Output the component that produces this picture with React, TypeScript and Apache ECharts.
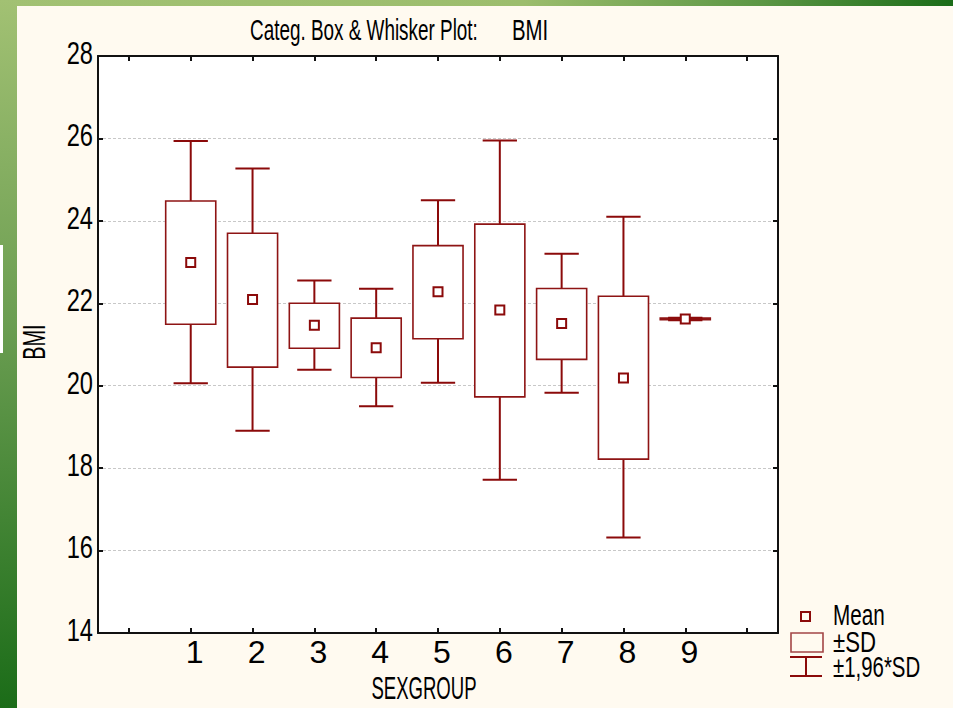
import React, { useEffect, useRef } from "react";
import * as echarts from "echarts";

// ---- data ----
const categories = ["", "1", "2", "3", "4", "5", "6", "7", "8", "9", ""];
const groupIndex = [1, 2, 3, 4, 5, 6, 7, 8, 9];
const means = [22.99, 22.09, 21.47, 20.92, 22.28, 21.84, 21.51, 20.19, 21.62];
const sdLow = [21.49, 20.45, 20.91, 20.2, 21.14, 19.73, 20.64, 18.22, 21.6];
const sdHigh = [24.48, 23.7, 22.0, 21.64, 23.4, 23.92, 22.36, 22.17, 21.64];
const ciLow = [20.06, 18.91, 20.39, 19.5, 20.07, 17.72, 19.83, 16.32, 21.59];
const ciHigh = [25.94, 25.27, 22.55, 22.35, 24.5, 25.95, 23.2, 24.1, 21.65];
const yTickValues = [14, 16, 18, 20, 22, 24, 26, 28];
const yMin = 14;
const yMax = 28;
const yStep = 2;

const titleMain = "Categ. Box & Whisker Plot:";
const titleVar = "BMI";
const xName = "SEXGROUP";
const yName = "BMI";
const legendTexts = ["Mean", "\u00B1SD", "\u00B11,96*SD"];

const FONT = "'Liberation Sans', Arial, Helvetica, sans-serif";
const DARK_RED = "#8b0a0a";
const BOX_RED = "#8e1414";

export default function App() {
  const ref = useRef<HTMLDivElement>(null);

  useEffect(() => {
    if (!ref.current) return;
    const chart = echarts.init(ref.current, undefined, { renderer: "svg" });

    const data = groupIndex.map((g, i) => [g, means[i], sdLow[i], sdHigh[i], ciLow[i], ciHigh[i]]);

    const renderItem = (params: any, api: any) => {
      const cat = api.value(0);
      const band = api.size([1, 0])[0];
      const boxW = band * 0.81;
      const capW = band * 0.555;
      const pMean = api.coord([cat, api.value(1)]);
      const pSdL = api.coord([cat, api.value(2)]);
      const pSdH = api.coord([cat, api.value(3)]);
      const pCiL = api.coord([cat, api.value(4)]);
      const pCiH = api.coord([cat, api.value(5)]);
      const cx = pMean[0];
      const wStyle = { stroke: DARK_RED, lineWidth: 2, fill: "none" };
      return {
        type: "group",
        children: [
          { type: "line", shape: { x1: cx, y1: pCiH[1], x2: cx, y2: pCiL[1] }, style: wStyle },
          {
            type: "rect",
            shape: { x: cx - boxW / 2, y: pSdH[1], width: boxW, height: Math.max(pSdL[1] - pSdH[1], 1) },
            style: { fill: "#ffffff", stroke: BOX_RED, lineWidth: 1.6 },
          },
          { type: "line", shape: { x1: cx - capW / 2, y1: pCiH[1], x2: cx + capW / 2, y2: pCiH[1] }, style: wStyle },
          { type: "line", shape: { x1: cx - capW / 2, y1: pCiL[1], x2: cx + capW / 2, y2: pCiL[1] }, style: wStyle },
          {
            type: "rect",
            shape: { x: cx - 4.5, y: pMean[1] - 4.5, width: 9, height: 9 },
            style: { fill: "#ffffff", stroke: DARK_RED, lineWidth: 2 },
          },
        ],
      };
    };

    const txt = (text: string, x: number, y: number, size: number, sx: number, align: string, rot = 0) => ({
      type: "text",
      x,
      y,
      scaleX: sx,
      rotation: rot,
      silent: true,
      z: 10,
      style: {
        text,
        fontSize: size,
        fontFamily: FONT,
        fill: "#000",
        textAlign: align,
        align,
        textVerticalAlign: "middle",
        verticalAlign: "middle",
      },
    });

    const baseGraphic: any[] = [
      {
        type: "rect",
        x: 0,
        y: 0,
        shape: { width: 953, height: 6 },
        silent: true,
        style: {
          fill: new echarts.graphic.LinearGradient(0, 0, 1, 0, [
            { offset: 0, color: "#a2c173" },
            { offset: 0.55, color: "#9cbd6d" },
            { offset: 0.8, color: "#5c9644" },
            { offset: 1, color: "#1b6c18" },
          ]),
        },
      },
      {
        type: "rect",
        x: 0,
        y: 0,
        shape: { width: 17, height: 708 },
        silent: true,
        style: {
          fill: new echarts.graphic.LinearGradient(0, 0, 0, 1, [
            { offset: 0, color: "#a2c173" },
            { offset: 0.45, color: "#6c9e52" },
            { offset: 1, color: "#1b6c18" },
          ]),
        },
      },
      { type: "rect", x: 0, y: 245, shape: { width: 3, height: 108 }, silent: true, style: { fill: "#ffffff" } },
      txt(titleMain, 250, 29, 30, 0.63, "left"),
      txt(titleVar, 512, 29, 30, 0.68, "left"),
      txt(yName, 34, 342, 32, 0.62, "center", Math.PI / 2),
      txt(xName, 424, 688, 32, 0.58, "center"),
      // legend
      { type: "rect", x: 801, y: 612, shape: { width: 9, height: 9 }, silent: true, style: { fill: "none", stroke: DARK_RED, lineWidth: 2 } },
      { type: "rect", x: 791, y: 633, shape: { width: 32, height: 19 }, silent: true, style: { fill: "none", stroke: "#a34646", lineWidth: 1.6 } },
      { type: "line", shape: { x1: 790, y1: 657, x2: 822, y2: 657 }, silent: true, style: { stroke: DARK_RED, lineWidth: 2 } },
      { type: "line", shape: { x1: 806, y1: 657, x2: 806, y2: 676 }, silent: true, style: { stroke: DARK_RED, lineWidth: 2 } },
      { type: "line", shape: { x1: 790, y1: 676, x2: 822, y2: 676 }, silent: true, style: { stroke: DARK_RED, lineWidth: 2 } },
      txt(legendTexts[0], 833, 615, 30, 0.69, "left"),
      txt(legendTexts[1], 833, 642, 30, 0.74, "left"),
      txt(legendTexts[2], 833, 666, 30, 0.68, "left"),
    ];

    const option: any = {
      animation: false,
      backgroundColor: "#fffaf0",
      grid: {
        left: 98,
        right: 175,
        top: 56,
        bottom: 75,
        show: true,
        backgroundColor: "#ffffff",
        borderWidth: 0,
      },
      xAxis: [
        {
          type: "category",
          data: categories,
          position: "bottom",
          boundaryGap: true,
          axisLine: { lineStyle: { color: "#111", width: 2 } },
          axisTick: { show: true, inside: true, length: 5, alignWithLabel: true, interval: 0, lineStyle: { color: "#111", width: 2 } },
          axisLabel: { interval: 0, fontSize: 32, fontFamily: FONT, color: "#000", margin: 3, padding: [0, 0, 0, 8] },
          splitLine: { show: false },
        },
        {
          type: "category",
          data: categories,
          position: "top",
          boundaryGap: true,
          axisLine: { lineStyle: { color: "#111", width: 2 } },
          axisTick: { show: true, inside: true, length: 5, alignWithLabel: true, interval: 0, lineStyle: { color: "#111", width: 2 } },
          axisLabel: { show: false },
          splitLine: { show: false },
        },
      ],
      yAxis: [
        {
          type: "value",
          min: yMin,
          max: yMax,
          interval: yStep,
          position: "left",
          axisLine: { show: true, lineStyle: { color: "#111", width: 2 } },
          axisTick: { show: true, inside: true, length: 5, lineStyle: { color: "#111", width: 2 } },
          axisLabel: { show: false },
          splitLine: { show: true, lineStyle: { color: "#c8c8c8", width: 1, type: [3, 2] } },
        },
        {
          type: "value",
          min: yMin,
          max: yMax,
          interval: yStep,
          position: "right",
          axisLine: { show: true, lineStyle: { color: "#111", width: 2 } },
          axisTick: { show: true, inside: true, length: 5, lineStyle: { color: "#111", width: 2 } },
          axisLabel: { show: false },
          splitLine: { show: false },
        },
      ],
      series: [
        {
          type: "custom",
          xAxisIndex: 0,
          yAxisIndex: 0,
          renderItem,
          encode: { x: 0, y: [1, 2, 3, 4, 5] },
          data,
          z: 5,
        },
      ],
      graphic: baseGraphic,
    };

    chart.setOption(option);

    // condensed y tick labels, positioned through the y axis scale
    const gridLeft = 98;
    const yLabels = yTickValues.map((v) => {
      const py = chart.convertToPixel({ yAxisIndex: 0 }, v) as number;
      return txt(String(v), gridLeft - 5, py - 3, 32, 0.74, "right");
    });
    chart.setOption({ graphic: [...baseGraphic, ...yLabels] });

    return () => chart.dispose();
  }, []);

  return (
    <div
      ref={ref}
      style={{ position: "absolute", left: 0, top: 0, width: 953, height: 708 }}
    />
  );
}
